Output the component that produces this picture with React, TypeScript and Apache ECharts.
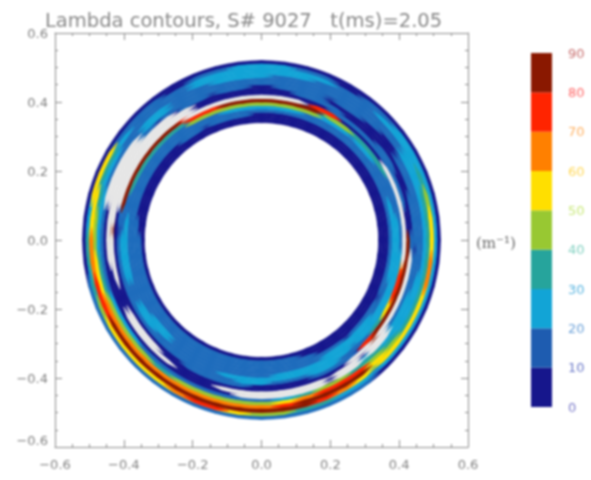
import React, { useEffect, useRef } from "react";
import * as echarts from "echarts";

const titleText = "Lambda contours, S# 9027   t(ms)=2.05";
const unitText = "(m⁻¹)";
const axisTicks = [-0.6, -0.4, -0.2, 0, 0.2, 0.4, 0.6];
const barLevels = [0, 10, 20, 30, 40, 50, 60, 70, 80];
const levelColors = ["#16168c", "#1e6cbc", "#12a4d6", "#26a49c", "#98c832", "#ffdf00", "#ff8000", "#ff2400", "#8a1800"];
const barColors = ["#16168c", "#1e5cb0", "#12a4d6", "#26a49c", "#98c832", "#ffdf00", "#ff8000", "#ff2400", "#8a1800"];
const overflowColor = "#e6e6e6";
const barLabelColors = ["#7878c8", "#6a78c8", "#6aa0d8", "#58b4e0", "#80d0c0", "#c8e878", "#ffd858", "#ffb060", "#ff6868", "#c87070"];
const innerRadius = 0.34;
const outerRadius = 0.52;

// Contour level per radial bin (inner to outer), one string per 7.5 degree sector. W = above scale.
const quadrantNE = [
  "0001221W0011123520", "0001211W0011123420", "0001111W1001122320", "0001111W1001122220",
  "000111301100011220", "000112301000011210", "000111301000111110", "000112401001111100",
  "000112370100111100", "000114800111111210", "0001248W0011112210", "0001248W0001112220",
];
const quadrantNW = [
  "0001248W0001122220", "0011248W0011122210", "0011147W0001112210", "0001147W0011111100",
  "00111137WW01111100", "00011138WWW0221110", "00011138WWW1111110", "00011138WWWWW11210",
  "00011138WWWWW12350", "00011118WWWWW12350", "000111110WW0123520", "0011121008W0124520",
];
const quadrantSW = [
  "011112210WW0124630", "011112210W00135620", "011111110000135731", "011111110000246741",
  "011112210WW0246851", "011122110WW0146851", "0111111100W0136851", "011111110000136851",
  "011111111000146861", "011111111000146871", "0111112110W0146851", "0111112200WW146841",
];
const quadrantSE = [
  "0111112100WW146841", "0111122100WW257831", "0011122100WW368731", "000112221000478621",
  "0001222110WW378521", "000022110W02345310", "0001222178WW234520", "000112238W12223520",
  "000012258W12223520", "000112278W11223520", "000122268W11123620", "0001221W8101123520",
];

const sectors = [...quadrantNE, ...quadrantNW, ...quadrantSW, ...quadrantSE];
const sectorStep = 360 / sectors.length;
const binStep = (outerRadius - innerRadius) / sectors[0].length;

const cells: number[][] = [];
sectors.forEach((profile, s) => {
  profile.split("").forEach((ch, b) => {
    cells.push([s * sectorStep, innerRadius + b * binStep, ch === "W" ? 9 : Number(ch)]);
  });
});
// Higher levels are painted last so they overlap their neighbours.
cells.sort((p, q) => p[2] - q[2]);

const ringCell = (params: any, api: any) => {
  const a0 = api.value(0);
  const r0 = api.value(1);
  const level = api.value(2);
  const a1 = a0 + sectorStep;
  const r1 = r0 + binStep;
  const polar = (r: number, deg: number) => {
    const t = (deg * Math.PI) / 180;
    return api.coord([r * Math.cos(t), r * Math.sin(t)]);
  };
  const pts: number[][] = [];
  const n = 4;
  for (let i = 0; i <= n; i++) pts.push(polar(r0, a0 + ((a1 - a0) * i) / n));
  pts.push(polar((r0 + r1) / 2, a1 + sectorStep * 0.55));
  for (let i = n; i >= 0; i--) pts.push(polar(r1, a0 + ((a1 - a0) * i) / n));
  pts.push(polar((r0 + r1) / 2, a0 - sectorStep * 0.55));
  const color = level === 9 ? overflowColor : levelColors[level];
  return { type: "polygon", shape: { points: pts }, style: { fill: color, stroke: color, lineWidth: 0.5 } };
};

const barCell = (params: any, api: any) => {
  const v = api.value(0);
  const lo = api.coord([0, v]);
  const hi = api.coord([1, v + 10]);
  return {
    type: "rect",
    shape: { x: lo[0], y: hi[1], width: hi[0] - lo[0], height: lo[1] - hi[1] },
    style: { fill: barColors[v / 10] },
  };
};

const fmt = (v: number) => (Math.abs(v) < 1e-9 ? "0.0" : v.toFixed(1).replace("-", "−"));
const gray = "#8a8a8a";
const labelFont = { fontFamily: "DejaVu Sans", fontSize: 13, color: "#808080" };

const boxAxis = (extra: any) => ({
  type: "value",
  min: axisTicks[0],
  max: axisTicks[axisTicks.length - 1],
  interval: 0.2,
  gridIndex: 0,
  splitLine: { show: false },
  axisLine: { show: true, onZero: false, lineStyle: { color: gray, width: 1 } },
  axisTick: { show: true, inside: true, length: 7, lineStyle: { color: gray } },
  minorTick: { show: true, splitNumber: 4, length: 3, lineStyle: { color: gray } },
  ...extra,
});

export default function App() {
  const ref = useRef<HTMLDivElement>(null);
  useEffect(() => {
    document.body.style.margin = "0";
    const chart = echarts.init(ref.current!, null, { renderer: "svg" });
    chart.setOption({
      animation: false,
      backgroundColor: "#fff",
      grid: [
        { left: 55, top: 33, width: 413, height: 414 },
        { left: 531, top: 53, width: 21, height: 354 },
      ],
      title: {
        text: titleText,
        left: 40,
        top: 5,
        textStyle: { fontFamily: "DejaVu Sans", fontSize: 19.5, fontWeight: "normal", color: "#888" },
      },
      graphic: [
        {
          type: "text",
          x: 476,
          y: 235,
          style: { text: unitText, fontFamily: "DejaVu Serif", fontSize: 15, fill: "#666" },
        },
      ],
      xAxis: [
        boxAxis({ position: "bottom", axisLabel: { ...labelFont, margin: 11, formatter: fmt } }),
        boxAxis({ position: "top", axisLabel: { show: false } }),
        { type: "value", gridIndex: 1, min: 0, max: 1, show: false },
      ],
      yAxis: [
        boxAxis({ position: "left", axisLabel: { ...labelFont, margin: 7, formatter: fmt, verticalAlignMinLabel: "bottom" } }),
        boxAxis({ position: "right", axisLabel: { show: false } }),
        {
          type: "value",
          gridIndex: 1,
          position: "right",
          min: 0,
          max: 90,
          interval: 10,
          splitLine: { show: false },
          axisLine: { show: false },
          axisTick: { show: false },
          axisLabel: {
            margin: 16,
            fontFamily: "DejaVu Sans",
            fontSize: 13,
            color: (v: number) => barLabelColors[Math.round(v / 10)],
          },
        },
      ],
      series: [
        {
          type: "custom",
          coordinateSystem: "cartesian2d",
          xAxisIndex: 0,
          yAxisIndex: 0,
          renderItem: ringCell,
          data: cells,
          encode: { x: -1, y: -1 },
          silent: true,
        },
        {
          type: "custom",
          coordinateSystem: "cartesian2d",
          xAxisIndex: 2,
          yAxisIndex: 2,
          renderItem: barCell,
          data: barLevels.map((v) => [v]),
          encode: { x: -1, y: -1 },
          silent: true,
        },
      ],
    });
    return () => chart.dispose();
  }, []);
  return (
    <div
      ref={ref}
      style={{ position: "fixed", left: 0, top: 0, width: 591, height: 480, filter: "blur(0.9px)" }}
    />
  );
}
